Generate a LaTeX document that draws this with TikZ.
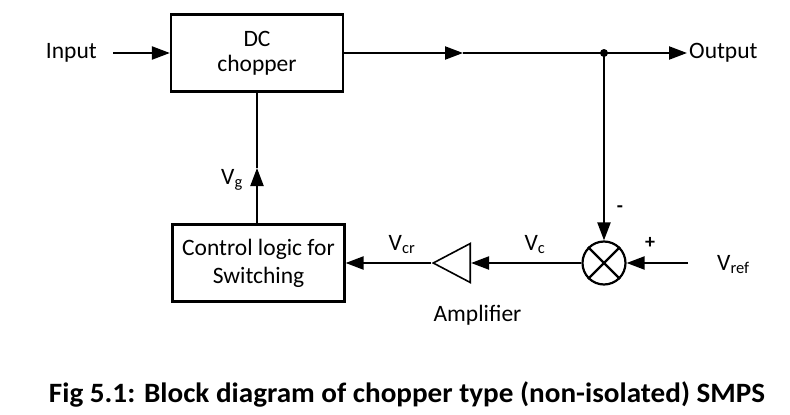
\documentclass[tikz,border=0pt]{standalone}
\usepackage{fontspec}
\setmainfont{Carlito}
\usetikzlibrary{arrows.meta,shapes.geometric}
\newsavebox\capbox
\newcommand\captxt{\bfseries\fontsize{28}{34}\selectfont Fig 5.1: Block diagram of chopper type (non-isolated) SMPS}
\begin{document}
\begin{tikzpicture}[x=1pt,y=-1pt,
  wire/.style={line width=2.2pt},
  arr/.style={wire,-{Triangle[length=18pt,width=13pt]}},
  blk/.style={draw,line width=2.2pt,minimum width=172pt,minimum height=77pt,align=center,inner sep=0pt,font=\fontsize{23.5}{25}\selectfont},
  lbl/.style={inner sep=0pt,font=\fontsize{23.5}{25}\selectfont},
  sgn/.style={inner sep=0pt,font=\bfseries\fontsize{20}{24}\selectfont}]
\useasboundingbox (0,0) rectangle (790,415);
\node[blk] (dc) at (257,53) {DC\\chopper};
\node[blk,font=\fontsize{23.5}{28}\selectfont] (ctrl) at (258.5,263) {Control logic for\\Switching};
\node[draw,circle,line width=2.2pt,minimum size=43pt,inner sep=0pt] (sum) at (604,263) {};
\draw[wire] (sum.north west) -- (sum.south east) (sum.north east) -- (sum.south west);
\node[draw,isosceles triangle,shape border rotate=180,isosceles triangle stretches,minimum height=37pt,minimum width=39pt,inner sep=0pt,line width=1.6pt] (amp) at (458.5,263) {};
\fill (604,53) circle (4pt) coordinate (j);
\node[lbl,anchor=east] (in) at (97,53) {Input};
\coordinate (ins) at (113,53);
\draw[arr] (ins) -- (dc.west);
\coordinate (m1) at (463,53);
\draw[arr] (dc.east) -- (m1);
\draw[wire] (m1) -- (j);
\coordinate (oe) at (687,53);
\draw[arr] (j) -- (oe);
\node[lbl,anchor=west] (out) at (689,53) {Output};
\draw[arr] (j) -- (sum.north);
\coordinate (vr) at (688,263);
\draw[arr] (vr) -- (sum.east);
\node[lbl,anchor=base west] (vref) at (717,270) {V\textsubscript{ref}};
\draw[arr] (sum.west) -- (amp.lower side);
\draw[arr] (amp.apex) -- (ctrl.east);
\coordinate (m2) at (257,168);
\draw[arr] (ctrl.north -| m2) -- (m2);
\draw[wire] (m2) -- (dc.south -| m2);
\node[lbl,anchor=base] (vg) at (232,184) {V\textsubscript{g}};
\node[lbl,anchor=base] (vcr) at (402,250) {V\textsubscript{cr}};
\node[lbl,anchor=base] (vc) at (535,250) {V\textsubscript{c}};
\node[sgn] (minus) at (620,209) {-};
\node[sgn] (plus) at (650,243) {+};
\node[lbl,anchor=base] (ampl) at (477.5,321) {Amplifier};
\node[inner sep=0pt,anchor=base] (cap) at (407,402) {\sbox\capbox{\captxt}\pgfmathsetmacro\capx{716/\wd\capbox}\scalebox{\capx}[1]{\usebox\capbox}};
\end{tikzpicture}
\end{document}
